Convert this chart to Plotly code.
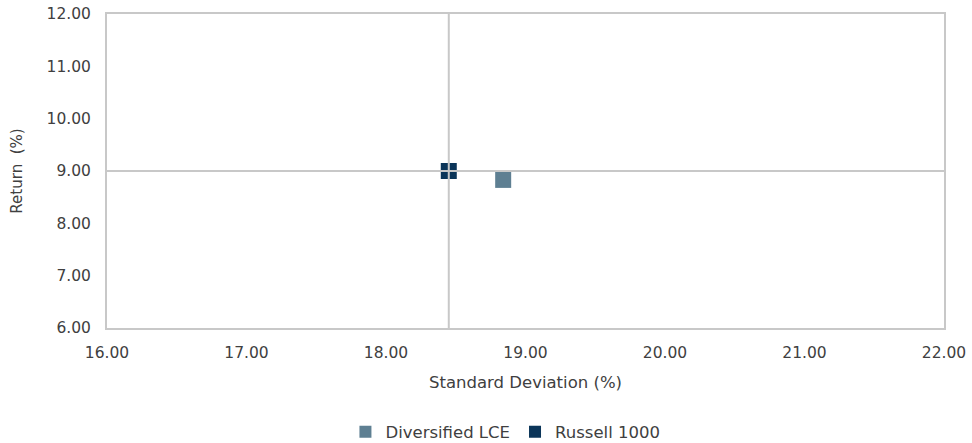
import plotly.graph_objects as go

series_names = ["Diversified LCE", "Russell 1000"]
std_dev = [18.84, 18.45]
returns = [8.83, 9.00]
colors = ["#5E7F92", "#0B3559"]

x_ticks = [16, 17, 18, 19, 20, 21, 22]
y_ticks = [6, 7, 8, 9, 10, 11, 12]

fig = go.Figure()
for name, x, y, c in zip(series_names, std_dev, returns, colors):
    fig.add_trace(go.Scatter(
        x=[x], y=[y], mode="markers", name=name,
        marker=dict(symbol="square", size=16, color=c, line=dict(width=0)),
    ))

# crosshair at benchmark (Russell 1000)
bx, by = std_dev[1], returns[1]
fig.add_shape(type="line", xref="x", yref="paper", x0=bx, x1=bx, y0=0, y1=1,
              line=dict(color="#C8C8C8", width=2), layer="above")
fig.add_shape(type="line", xref="paper", yref="y", x0=0, x1=1, y0=by, y1=by,
              line=dict(color="#C8C8C8", width=2), layer="above")

font_family = "'DejaVu Sans', sans-serif"
fig.update_layout(
    width=972, height=443,
    margin=dict(l=107, r=28, t=14, b=115, autoexpand=False),
    paper_bgcolor="white", plot_bgcolor="white",
    font=dict(family=font_family, size=15, color="#404040"),
    showlegend=True,
    legend=dict(orientation="h", x=0.52, xanchor="center", xref="container",
                y=0.025, yanchor="middle", yref="container",
                font=dict(size=16.5, color="#404040"), itemsizing="constant"),
    xaxis=dict(range=[16, 22], tickvals=x_ticks, ticktext=[f"{v:.2f}" for v in x_ticks],
               tickfont=dict(size=15.5), ticklabelstandoff=9, ticklabeloverflow="allow",
               showgrid=False, zeroline=False, showline=True, mirror=True,
               linecolor="#C8C8C8", linewidth=2, ticks="", automargin=False,
               title=dict(text="Standard Deviation (%)", standoff=16, font=dict(size=16.5))),
    yaxis=dict(range=[6, 12], tickvals=y_ticks, ticktext=[f"{v:.2f}" for v in y_ticks],
               tickfont=dict(size=15.5), ticklabelstandoff=11, ticklabeloverflow="allow",
               showgrid=False, zeroline=False, showline=True, mirror=True,
               linecolor="#C8C8C8", linewidth=2, ticks="", automargin=False,
               title=dict(text="Return  (%)", standoff=20, font=dict(size=15))),
)

fig.write_html(
    "out.html",
    config={"displayModeBar": False},
    post_script="document.body.style.margin='0';document.body.style.overflow='hidden';",
)
